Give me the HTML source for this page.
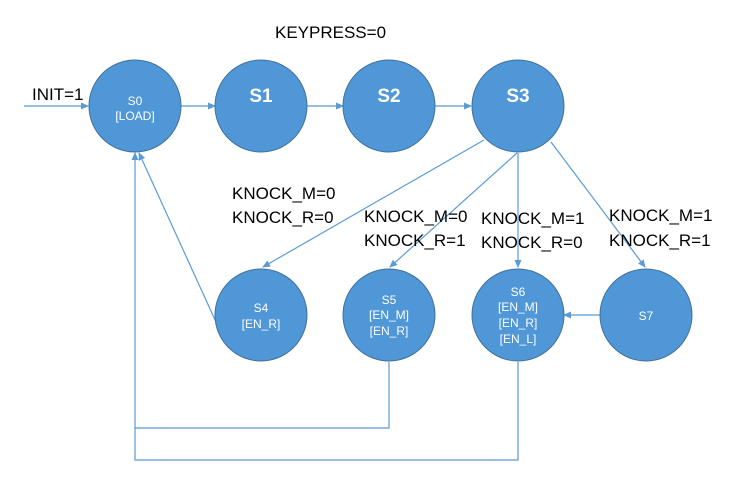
<!DOCTYPE html>
<html><head><style>
body{margin:0;background:#fff;}
svg{display:block}
.l{font-family:"Liberation Sans",sans-serif;font-size:17px;fill:#000}
.n{font-family:"Liberation Sans",sans-serif;fill:#fff;text-anchor:middle}
</style></head><body>
<svg width="746" height="494" viewBox="0 0 746 494">
<defs><marker id="a" markerWidth="8" markerHeight="8" refX="7" refY="4" orient="auto" markerUnits="userSpaceOnUse"><path d="M0,0.5 L8,4 L0,7.5z" fill="#5b9bd5"/></marker></defs>
<g stroke="#5b9bd5" stroke-width="1.2" fill="none">
<line x1="24" y1="106" x2="88" y2="106" marker-end="url(#a)"/>
<line x1="181" y1="106" x2="215" y2="106" marker-end="url(#a)"/>
<line x1="307" y1="106" x2="343" y2="106" marker-end="url(#a)"/>
<line x1="435" y1="106" x2="471" y2="106" marker-end="url(#a)"/>
<line x1="484" y1="140" x2="263" y2="267" marker-end="url(#a)"/>
<line x1="517" y1="153" x2="390" y2="267" marker-end="url(#a)"/>
<line x1="518" y1="153" x2="518" y2="267" marker-end="url(#a)"/>
<line x1="551" y1="142" x2="645" y2="267" marker-end="url(#a)"/>
<line x1="600" y1="315" x2="564" y2="315" marker-end="url(#a)"/>
<line x1="216" y1="322" x2="139" y2="153" marker-end="url(#a)"/>
<polyline points="389,362 389,428 135,428 135,153" marker-end="url(#a)"/>
<polyline points="518,362 518,460 135,460 135,428"/>
</g>
<g fill="#4f97d6" stroke="#41719c" stroke-width="1">
<circle cx="135" cy="106" r="46"/><circle cx="261" cy="106" r="46"/>
<circle cx="389" cy="106" r="46"/><circle cx="518" cy="106" r="46"/>
<circle cx="261" cy="315" r="46"/><circle cx="389" cy="315" r="46"/>
<circle cx="518" cy="315" r="46"/><circle cx="646" cy="315" r="46"/>
</g>
<g class="n" font-size="12">
<text x="135" y="105">S0</text><text x="135" y="120">[LOAD]</text>
</g>
<g class="n" font-size="19" font-weight="bold">
<text x="261" y="102">S1</text><text x="389" y="102">S2</text><text x="518" y="102">S3</text>
</g>
<g class="n" font-size="12">
<text x="261" y="312">S4</text><text x="261" y="328">[EN_R]</text>
<text x="389" y="304">S5</text><text x="389" y="319">[EN_M]</text><text x="389" y="335">[EN_R]</text>
<text x="518" y="296">S6</text><text x="518" y="311">[EN_M]</text><text x="518" y="327">[EN_R]</text><text x="518" y="343">[EN_L]</text>
<text x="646" y="320">S7</text>
</g>
<text class="l" x="275" y="38">KEYPRESS=0</text>
<text class="l" x="32" y="100">INIT=1</text>
<text class="l" x="232" y="199">KNOCK_M=0</text><text class="l" x="232" y="223">KNOCK_R=0</text>
<text class="l" x="364" y="222">KNOCK_M=0</text><text class="l" x="364" y="246">KNOCK_R=1</text>
<text class="l" x="481" y="224">KNOCK_M=1</text><text class="l" x="481" y="248">KNOCK_R=0</text>
<text class="l" x="609" y="221">KNOCK_M=1</text><text class="l" x="609" y="246">KNOCK_R=1</text>
</svg>
</body></html>
